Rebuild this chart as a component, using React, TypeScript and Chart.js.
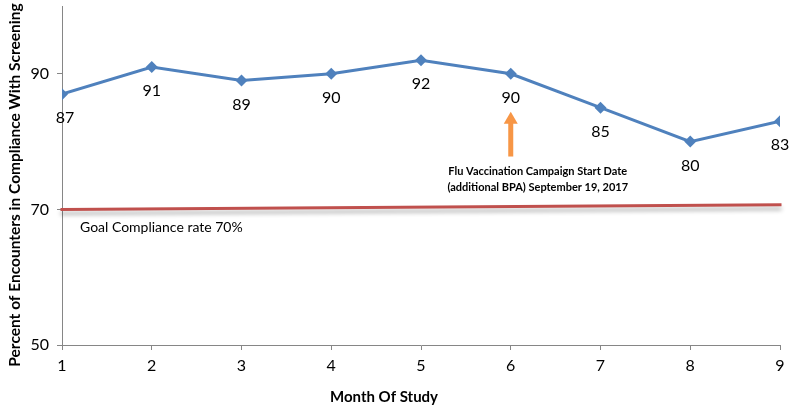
import React, { useEffect, useRef } from "react";
import { Chart, registerables } from "chart.js";

Chart.register(...registerables);

const months = [1, 2, 3, 4, 5, 6, 7, 8, 9];
const compliance = [87, 91, 89, 90, 92, 90, 85, 80, 83];
const goalMonths = [1, 9];
const goalValues = [70, 70.7];
const yTicks = [50, 70, 90];
const goalLabel = "Goal Compliance rate 70%";
const campaignMonth = 6;
const campaignLines = ["Flu Vaccination Campaign Start Date", "(additional BPA) September 19, 2017"];
const yTitle = "Percent of Encounters in Compliance With Screening";
const xTitle = "Month Of Study";

const FONT = "Lato, 'Open Sans', sans-serif";

const overlay = {
  id: "overlay",
  beforeDatasetDraw(chart: any, args: any) {
    if (args.index === 1) {
      const ctx = chart.ctx;
      ctx.save();
      ctx.shadowColor = "rgba(0,0,0,0.3)";
      ctx.shadowOffsetY = 4;
      ctx.shadowBlur = 4;
    }
  },
  afterDatasetDraw(chart: any, args: any) {
    if (args.index === 1) chart.ctx.restore();
  },
  afterDraw(chart: any) {
    const ctx = chart.ctx;
    const xs = chart.scales.x;
    const ys = chart.scales.y;
    ctx.save();
    // data labels
    ctx.fillStyle = "#000";
    ctx.font = `16px ${FONT}`;
    ctx.textAlign = "center";
    ctx.textBaseline = "middle";
    compliance.forEach((v, i) => {
      const px = xs.getPixelForValue(months[i]);
      const py = ys.getPixelForValue(v);
      ctx.fillText(String(v), px + (i === 0 ? 3 : 0), py + 24);
    });
    // goal label
    ctx.font = `14px ${FONT}`;
    ctx.textAlign = "left";
    ctx.fillText(goalLabel, xs.getPixelForValue(1) + 18, ys.getPixelForValue(70) + 18);
    // arrow
    const ax = xs.getPixelForValue(campaignMonth);
    const tip = ys.getPixelForValue(84.4);
    const base = ys.getPixelForValue(77.8);
    ctx.fillStyle = "#F79646";
    ctx.fillRect(ax - 2.5, tip + 10, 5, base - tip - 10);
    ctx.beginPath();
    ctx.moveTo(ax, tip);
    ctx.lineTo(ax - 7, tip + 12);
    ctx.lineTo(ax + 7, tip + 12);
    ctx.closePath();
    ctx.fill();
    // campaign text
    ctx.fillStyle = "#000";
    ctx.font = `bold 11px ${FONT}`;
    ctx.textAlign = "center";
    ctx.fillText(campaignLines[0], ax + 27, ys.getPixelForValue(75.6));
    ctx.fillText(campaignLines[1], ax + 27, ys.getPixelForValue(73.3));
    // axis titles
    ctx.font = `bold 15px ${FONT}`;
    ctx.fillText(xTitle, 384, 397);
    ctx.translate(15, 185);
    ctx.rotate(-Math.PI / 2);
    ctx.font = `bold 15.5px ${FONT}`;
    ctx.fillText(yTitle, 0, 0);
    ctx.restore();
  },
};

export default function App() {
  const ref = useRef<HTMLCanvasElement>(null);
  useEffect(() => {
    if (!ref.current) return;
    const chart = new Chart(ref.current, {
      type: "line",
      data: {
        datasets: [
          {
            data: months.map((m, i) => ({ x: m, y: compliance[i] })),
            borderColor: "#4F81BD",
            backgroundColor: "#4F81BD",
            borderWidth: 3,
            pointStyle: "rectRot",
            pointRadius: 6,
            pointBorderWidth: 0,
            tension: 0,
          },
          {
            data: goalMonths.map((m, i) => ({ x: m, y: goalValues[i] })),
            borderColor: "#C0504D",
            borderWidth: 3,
            pointRadius: 0,
            borderCapStyle: "square",
            clip: false,
          },
        ],
      },
      options: {
        animation: false,
        responsive: true,
        maintainAspectRatio: false,
        layout: { padding: { top: 4, right: 14, left: 0, bottom: 0 } },
        plugins: { legend: { display: false }, tooltip: { enabled: false } },
        scales: {
          x: {
            type: "linear",
            min: 1,
            max: 9,
            ticks: { stepSize: 1, color: "#000", font: { size: 16, family: FONT }, padding: 6 },
            grid: { drawOnChartArea: false, drawTicks: true, tickLength: 5, color: "#868686" },
            border: { color: "#868686", width: 1 },
            afterFit: (s: any) => { s.height = 63; s.paddingLeft = 0; s.paddingRight = 0; },
          },
          y: {
            min: 50,
            max: 100,
            afterBuildTicks: (s: any) => { s.ticks = yTicks.map((v) => ({ value: v })); },
            ticks: { color: "#000", font: { size: 16, family: FONT }, padding: 8 },
            grid: { drawOnChartArea: false, drawTicks: true, tickLength: 5, color: "#868686" },
            border: { color: "#868686", width: 1 },
            afterFit: (s: any) => { s.width = 62; s.paddingTop = 0; s.paddingBottom = 0; },
          },
        },
      },
      plugins: [overlay],
    } as any);
    return () => chart.destroy();
  }, []);
  return (
    <div style={{ position: "fixed", left: 0, top: 0, width: 794, height: 408, background: "#fff" }}>
      <canvas ref={ref} />
    </div>
  );
}
